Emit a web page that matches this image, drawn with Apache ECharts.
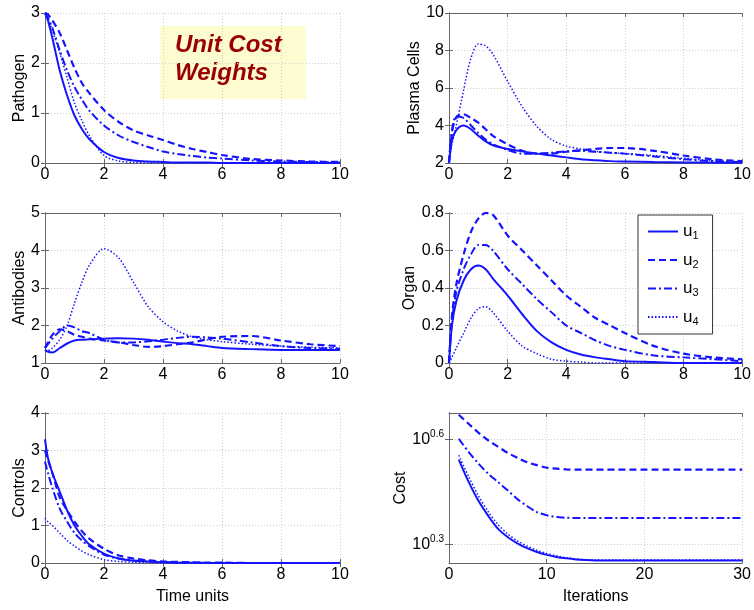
<!DOCTYPE html>
<html>
<head>
<meta charset="utf-8">
<script src="https://cdn.jsdelivr.net/npm/echarts@6/dist/echarts.min.js"></script>
<style>
html,body{margin:0;padding:0;background:#fff}
#main{width:754px;height:610px}
</style>
</head>
<body>
<div id="main"></div>
<script>
// time grid shared by the five state panels
var time = [0, 0.1, 0.25, 0.5, 0.75, 1, 1.25, 1.5, 2, 2.5, 3, 3.5, 4, 4.5, 5, 5.5, 6, 7, 8, 9, 10];

var pathogenU1 = [3, 2.85, 2.5, 1.85, 1.35, 0.95, 0.68, 0.48, 0.22, 0.1, 0.05, 0.03, 0.02, 0.01, 0.01, 0.01, 0, 0, 0, 0, 0];
var pathogenU2 = [3, 2.97, 2.85, 2.6, 2.25, 1.9, 1.6, 1.4, 1.06, 0.82, 0.65, 0.55, 0.46, 0.36, 0.28, 0.22, 0.16, 0.08, 0.05, 0.03, 0.02];
var pathogenU3 = [3, 2.9, 2.7, 2.25, 1.85, 1.52, 1.27, 1.05, 0.75, 0.55, 0.42, 0.32, 0.23, 0.18, 0.14, 0.11, 0.09, 0.05, 0.03, 0.02, 0.01];
var pathogenU4 = [3, 2.88, 2.65, 2.2, 1.7, 1.2, 0.85, 0.55, 0.15, 0.04, 0.01, 0, 0, 0, 0, 0, 0, 0, 0, 0, 0];

var plasmaU1 = [2, 3.2, 3.75, 4.0, 3.8, 3.45, 3.15, 2.95, 2.75, 2.62, 2.5, 2.4, 2.3, 2.2, 2.15, 2.1, 2.08, 2.05, 2.03, 2.02, 2.02];
var plasmaU2 = [2, 3.6, 4.45, 4.6, 4.4, 4.15, 3.8, 3.45, 3.0, 2.65, 2.5, 2.5, 2.6, 2.68, 2.75, 2.8, 2.8, 2.65, 2.4, 2.2, 2.1];
var plasmaU3 = [2, 3.7, 4.5, 4.4, 4.0, 3.6, 3.25, 3.0, 2.7, 2.5, 2.5, 2.55, 2.62, 2.65, 2.6, 2.55, 2.5, 2.35, 2.2, 2.1, 2.05];
var plasmaU4 = [2, 3.0, 4.0, 5.9, 7.6, 8.35, 8.25, 7.8, 6.35, 5.0, 3.95, 3.25, 2.9, 2.75, 2.62, 2.55, 2.5, 2.4, 2.25, 2.12, 2.05];

var antibodyU1 = [1.35, 1.3, 1.28, 1.4, 1.52, 1.6, 1.62, 1.63, 1.65, 1.66, 1.65, 1.62, 1.57, 1.53, 1.5, 1.45, 1.4, 1.37, 1.35, 1.35, 1.35];
var antibodyU2 = [1.4, 1.55, 1.75, 1.9, 1.85, 1.75, 1.7, 1.65, 1.6, 1.55, 1.48, 1.43, 1.45, 1.5, 1.55, 1.63, 1.7, 1.72, 1.6, 1.5, 1.45];
var antibodyU3 = [1.4, 1.5, 1.65, 1.85, 2.0, 1.95, 1.85, 1.8, 1.62, 1.55, 1.55, 1.58, 1.62, 1.67, 1.7, 1.68, 1.65, 1.55, 1.45, 1.4, 1.38];
var antibodyU4 = [1.35, 1.33, 1.4, 1.62, 2.0, 2.6, 3.15, 3.6, 4.05, 3.8, 3.15, 2.5, 2.1, 1.85, 1.7, 1.62, 1.57, 1.5, 1.45, 1.42, 1.4];

var organU1 = [0, 0.2, 0.33, 0.44, 0.5, 0.52, 0.5, 0.45, 0.36, 0.26, 0.17, 0.11, 0.07, 0.045, 0.03, 0.02, 0.01, 0.005, 0, 0, 0];
var organU2 = [0, 0.25, 0.42, 0.58, 0.7, 0.77, 0.8, 0.79, 0.68, 0.6, 0.52, 0.44, 0.36, 0.3, 0.24, 0.2, 0.16, 0.09, 0.05, 0.03, 0.02];
var organU3 = [0, 0.22, 0.38, 0.5, 0.58, 0.63, 0.63, 0.6, 0.5, 0.42, 0.34, 0.27, 0.2, 0.16, 0.12, 0.09, 0.07, 0.04, 0.03, 0.02, 0.01];
var organU4 = [0, 0.03, 0.08, 0.16, 0.24, 0.29, 0.3, 0.27, 0.17, 0.09, 0.05, 0.02, 0.01, 0.005, 0, 0, 0, 0, 0, 0, 0];

var controlU1 = [3.3, 2.8, 2.4, 1.9, 1.4, 1.0, 0.72, 0.5, 0.25, 0.12, 0.06, 0.04, 0.02, 0.01, 0.01, 0, 0, 0, 0, 0, 0];
var controlU2 = [3.0, 2.75, 2.4, 1.75, 1.4, 1.1, 0.85, 0.65, 0.38, 0.2, 0.12, 0.07, 0.04, 0.03, 0.02, 0.01, 0.01, 0, 0, 0, 0];
var controlU3 = [2.7, 2.4, 2.0, 1.45, 1.1, 0.8, 0.6, 0.45, 0.22, 0.12, 0.07, 0.04, 0.03, 0.01, 0.01, 0, 0, 0, 0, 0, 0];
var controlU4 = [1.2, 1.1, 1.0, 0.8, 0.6, 0.45, 0.32, 0.22, 0.09, 0.04, 0.02, 0.01, 0, 0, 0, 0, 0, 0, 0, 0, 0];

// cost per iteration (log axis)
var iterations = [1, 2, 3, 4, 5, 6, 7, 8, 9, 10, 11, 12, 13, 14, 15, 16, 17, 18, 19, 20, 21, 22, 23, 24, 25, 26, 27, 28, 29, 30];
var costU1 = [3.491, 3.020, 2.667, 2.415, 2.218, 2.099, 2.014, 1.950, 1.901, 1.866, 1.841, 1.824, 1.811, 1.803, 1.799, 1.799, 1.799, 1.799, 1.799, 1.799, 1.799, 1.799, 1.799, 1.799, 1.799, 1.799, 1.799, 1.799, 1.799, 1.799];
var costU2 = [4.688, 4.416, 4.169, 3.963, 3.802, 3.648, 3.532, 3.428, 3.365, 3.311, 3.289, 3.273, 3.266, 3.266, 3.266, 3.266, 3.266, 3.266, 3.266, 3.266, 3.266, 3.266, 3.266, 3.266, 3.266, 3.266, 3.266, 3.266, 3.266, 3.266];
var costU3 = [4.0, 3.673, 3.404, 3.184, 3.013, 2.851, 2.692, 2.570, 2.472, 2.421, 2.393, 2.382, 2.377, 2.377, 2.377, 2.377, 2.377, 2.377, 2.377, 2.377, 2.377, 2.377, 2.377, 2.377, 2.377, 2.377, 2.377, 2.377, 2.377, 2.377];
var costU4 = [3.59, 3.126, 2.754, 2.483, 2.280, 2.143, 2.046, 1.977, 1.923, 1.884, 1.854, 1.832, 1.816, 1.807, 1.803, 1.803, 1.803, 1.803, 1.803, 1.803, 1.803, 1.803, 1.803, 1.803, 1.803, 1.803, 1.803, 1.803, 1.803, 1.803];
var costTicks = [1.99526, 3.98107];

var seriesNames = ['u1', 'u2', 'u3', 'u4'];

var FONT = '"Liberation Sans", Arial, sans-serif';
var BLUE = '#1414ff';
var lineStyles = [
	{ type: 'solid', width: 2 },
	{ type: [7, 4], width: 2.2 },
	{ type: [8, 3, 2, 3], width: 2 },
	{ type: [1.5, 2], width: 1.5 }
];

// one entry per subplot
var panels = [
	{ left: 45, top: 13, yName: 'Pathogen', yMin: 0, yMax: 3, yInt: 1, gap: 17, x: time, ys: [pathogenU1, pathogenU2, pathogenU3, pathogenU4] },
	{ left: 449, top: 13, yName: 'Plasma Cells', yMin: 2, yMax: 10, yInt: 2, gap: 23, x: time, ys: [plasmaU1, plasmaU2, plasmaU3, plasmaU4] },
	{ left: 45, top: 213, yName: 'Antibodies', yMin: 1, yMax: 5, yInt: 1, gap: 17, x: time, ys: [antibodyU1, antibodyU2, antibodyU3, antibodyU4] },
	{ left: 449, top: 213, yName: 'Organ', yMin: 0, yMax: 0.8, yInt: 0.2, gap: 27, x: time, ys: [organU1, organU2, organU3, organU4] },
	{ left: 45, top: 413, yName: 'Controls', yMin: 0, yMax: 4, yInt: 1, gap: 15, x: time, ys: [controlU1, controlU2, controlU3, controlU4], xName: 'Time units' },
	{ left: 449, top: 413, yName: 'Cost', yMin: 1.769, yMax: 4.74, gap: 35, x: iterations, ys: [costU1, costU2, costU3, costU4], xName: 'Iterations', log: true }
];

var grids = [], xAxes = [], yAxes = [], series = [];
var gridLine = { show: true, lineStyle: { color: '#cfcfcf', type: [1, 2], width: 1 } };
var boxLine = { show: true, lineStyle: { color: '#666', width: 1 } };
var tick = { show: true, inside: true, length: 4, lineStyle: { color: '#666' } };

panels.forEach(function (p, g) {
	grids.push({ left: p.left, top: p.top, width: 295, height: 150 });
	var xMax = p.log ? 30 : 10, xInt = p.log ? 10 : 2;
	xAxes.push({
		gridIndex: g, type: 'value', position: 'bottom', min: 0, max: xMax, interval: xInt,
		axisLine: boxLine, axisTick: tick, splitLine: gridLine,
		axisLabel: { color: '#000', fontSize: 16, fontFamily: FONT, margin: 4 },
		name: p.xName || '', nameLocation: 'middle', nameGap: 26,
		nameTextStyle: { color: '#000', fontSize: 16, fontFamily: FONT }
	});
	xAxes.push({
		gridIndex: g, type: 'value', position: 'top', min: 0, max: xMax, interval: xInt,
		axisLine: boxLine, axisTick: tick, splitLine: { show: false }, axisLabel: { show: false }
	});
	var yl = {
		gridIndex: g, position: 'left', min: p.yMin, max: p.yMax,
		axisLine: boxLine, axisTick: tick, splitLine: gridLine,
		axisLabel: { color: '#000', fontSize: 16, fontFamily: FONT, margin: 5 },
		name: p.yName, nameLocation: 'middle', nameGap: p.gap,
		nameTextStyle: { color: '#000', fontSize: 16, fontFamily: FONT }
	};
	var yr = {
		gridIndex: g, position: 'right', min: p.yMin, max: p.yMax,
		axisLine: boxLine, axisTick: tick, splitLine: { show: false }, axisLabel: { show: false }
	};
	if (p.log) {
		yl.type = 'log'; yr.type = 'log';
		yl.logBase = 10; yr.logBase = 10;
		yl.axisTick = Object.assign({ customValues: costTicks }, tick);
		yr.axisTick = Object.assign({ customValues: costTicks }, tick);
		yl.axisLabel.customValues = costTicks;
		yl.axisLabel.formatter = function (v) {
			return '{b|10}{s|' + (Math.log(v) / Math.LN10).toFixed(1) + '}';
		};
		yl.axisLabel.rich = {
			b: { fontSize: 16, fontFamily: FONT, color: '#000' },
			s: { fontSize: 10, fontFamily: FONT, color: '#000', verticalAlign: 'top', padding: [0, 0, 10, 0] }
		};
	} else {
		yl.type = 'value'; yr.type = 'value';
		yl.interval = p.yInt; yr.interval = p.yInt;
	}
	yAxes.push(yl, yr);

	p.ys.forEach(function (ys, k) {
		series.push({
			name: seriesNames[k], type: 'line',
			xAxisIndex: g * 2, yAxisIndex: g * 2,
			data: p.x.map(function (x, i) { return [x, ys[i]]; }),
			symbol: 'none', smooth: 0.3, silent: true,
			lineStyle: Object.assign({ color: BLUE }, lineStyles[k]),
			itemStyle: { color: BLUE },
			z: 4 - k
		});
	});
});

var chart = echarts.init(document.getElementById('main'), null, { renderer: 'canvas' });
chart.setOption({
	backgroundColor: '#fff',
	animation: false,
	grid: grids,
	xAxis: xAxes,
	yAxis: yAxes,
	series: series,
	legend: {
		data: seriesNames,
		orient: 'vertical',
		left: 638, top: 215,
		padding: [8, 14, 7, 9],
		itemGap: 10, itemWidth: 30, itemHeight: 14,
		backgroundColor: '#fff', borderColor: '#333', borderWidth: 1, borderRadius: 0,
		selectedMode: false,
		itemStyle: { opacity: 0 },
		formatter: function (n) { return '{a|u}{b|' + n.slice(1) + '}'; },
		textStyle: {
			color: '#000', fontFamily: FONT, fontSize: 16,
			rich: {
				a: { fontSize: 17, fontFamily: FONT, color: '#000' },
				b: { fontSize: 11, fontFamily: FONT, color: '#000', verticalAlign: 'bottom', padding: [9, 0, 0, 0] }
			}
		}
	},
	graphic: [{
		type: 'group', left: 160, top: 26,
		children: [
			{ type: 'rect', shape: { x: 0, y: 0, width: 146, height: 73 }, style: { fill: '#fdfbd0' } },
			{ type: 'text', x: 15, y: 31, style: { text: 'Unit Cost', fill: '#990000', font: 'italic bold 24px ' + FONT, textVerticalAlign: 'bottom' } },
			{ type: 'text', x: 15, y: 59, style: { text: 'Weights', fill: '#990000', font: 'italic bold 24px ' + FONT, textVerticalAlign: 'bottom' } }
		]
	}]
});
</script>
</body>
</html>
